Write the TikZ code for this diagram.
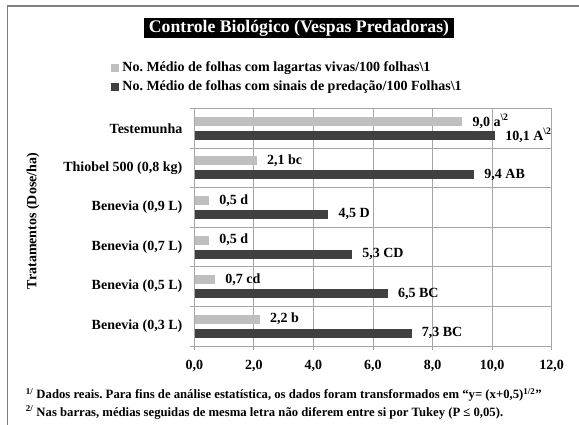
\documentclass[tikz,border=0pt]{standalone}
\usepackage{fontspec}
\setmainfont{Liberation Serif}
\frenchspacing
\usetikzlibrary{positioning}
\definecolor{barlight}{HTML}{BFBFBF}
\definecolor{bardark}{HTML}{404040}
\definecolor{gridgray}{HTML}{A6A6A6}
\definecolor{framegray}{HTML}{7F7F7F}
\tikzset{
  lbl/.style={font=\fontsize{14}{16}\selectfont\bfseries,inner sep=0pt},
  nota/.style={font=\fontsize{12.7}{14}\selectfont\bfseries,inner sep=0pt,anchor=west},
  grade/.style={draw=gridgray,line width=0.9pt},
  quadrado/.style={minimum size=8pt,inner sep=0pt}
}

\begin{document}
\begin{tikzpicture}[x=1pt,y=-1pt]
\useasboundingbox (0,0) rectangle (579,425);
\fill[white] (0,0) rectangle (579,425);
\draw[framegray,line width=1.2pt] (7.3,430) -- (7.3,6) -- (585,6); % moldura
\node[fill=black,text=white,font=\fontsize{17.7}{20}\selectfont\bfseries,
  inner xsep=5pt,inner ysep=2pt,text height=12.5pt,text depth=3.5pt] (titulo) at (299,27.7)
  {Controle Biológico (Vespas Predadoras)}; % titulo
\node[quadrado,fill=barlight] (q1) at (115,68.3) {}; % legenda 1
\node[lbl,right=3pt of q1] (leg1) {No. Médio de folhas com lagartas vivas/100 folhas\textbackslash1};
\node[quadrado,fill=bardark] (q2) at (115,87.3) {}; % legenda 2
\node[lbl,right=3pt of q2] (leg2) {No. Médio de folhas com sinais de predação/100 Folhas\textbackslash1};
% grade
\foreach \k in {0,...,6}
  \draw[grade] (190,{108.5+39.58*\k}) -- (551.7,{108.5+39.58*\k});
\foreach \v in {0,2,...,12}
  \draw[grade] ({194.3+29.78*\v},108.5) -- ({194.3+29.78*\v},350);
\foreach \v/\t in {0/{0,0},2/{2,0},4/{4,0},6/{6,0},8/{8,0},10/{10,0},12/{12,0}}
  \node[lbl] (x\v) at ({194.3+29.78*\v},366) {\t}; % eixo x
% barras
\foreach \i/\nome/\vl/\tl/\vd/\td in {
  0/Testemunha/9.0/{9,0 a\textsuperscript{\textbackslash2}}/10.1/{10,1 A\textsuperscript{\textbackslash2}},
  1/{Thiobel 500 (0,8 kg)}/2.1/{2,1 bc}/9.4/{9,4 AB},
  2/{Benevia (0,9 L)}/0.5/{0,5 d}/4.5/{4,5 D},
  3/{Benevia (0,7 L)}/0.5/{0,5 d}/5.3/{5,3 CD},
  4/{Benevia (0,5 L)}/0.7/{0,7 cd}/6.5/{6,5 BC},
  5/{Benevia (0,3 L)}/2.2/{2,2 b}/7.3/{7,3 BC}}{
  \pgfmathsetmacro\c{108.5+39.58*(\i+0.5)}
  \node[lbl,anchor=east] (cat\i) at (182.5,\c) {\nome};
  \fill[barlight] (195,\c-11.5) rectangle ({194.3+29.78*\vl},\c-2.5);
  \fill[bardark] (195,\c+2.5) rectangle ({194.3+29.78*\vd},\c+11.5);
  \node[lbl,anchor=west] (vl\i) at ({204.3+29.78*\vl},\c-7) {\tl};
  \node[lbl,anchor=west] (vd\i) at ({204.3+29.78*\vd},\c+7) {\td};
}
\node[lbl,rotate=90] (eixoy) at (33,221) {Tratamentos (Dose/ha)};
% notas
\node[nota] (nota1) at (25.7,395) {\textsuperscript{1/} Dados reais. Para fins de análise estatística, os dados foram transformados em “y= (x+0,5)\textsuperscript{1/2}”};
\node[nota] (nota2) at (25.7,412.3) {\textsuperscript{2/} Nas barras, médias seguidas de mesma letra não diferem entre si por Tukey (P ≤ 0,05).};
\end{tikzpicture}
\end{document}
